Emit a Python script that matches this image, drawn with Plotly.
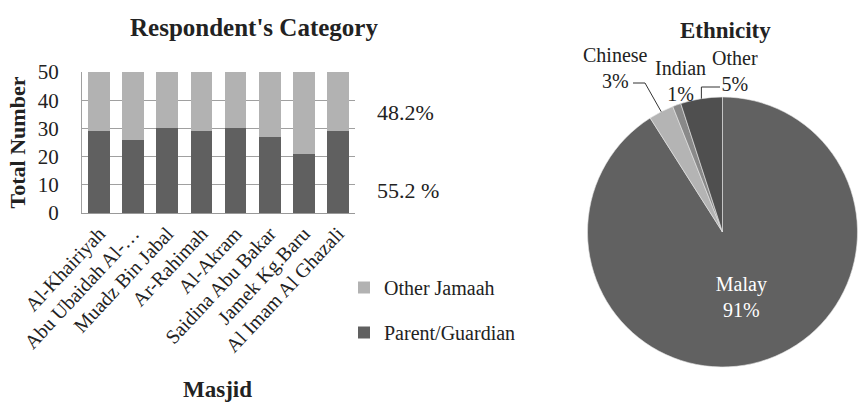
import math
import plotly.graph_objects as go

masjids = ["Al-Khairiyah", "Abu Ubaidah Al-…", "Muadz Bin Jabal", "Ar-Rahimah",
           "Al-Akram", "Saidina Abu Bakar", "Jamek Kg.Baru", "Al Imam Al Ghazali"]
parent_guardian = [29, 26, 30, 29, 30, 27, 21, 29]
other_jamaah = [21, 24, 20, 21, 20, 23, 29, 21]
side_labels = ["48.2%", "55.2 %"]

ethnic_labels = ["Malay", "Chinese", "Indian", "Other"]
ethnic_values = [91, 3, 1, 5]

FONT = "Liberation Serif"
W, H = 858, 403

# pie box in pixels (layout)
PX0, PX1, PY0, PY1 = 587, 858, 97, 367
PCX = (PX0 + PX1) / 2
PCY = (PY0 + PY1) / 2
PR = min(PX1 - PX0, PY1 - PY0) / 2


def px(x):
    return x / W


def py(y):
    return (H - y) / H


def slice_edge(i):
    """Point on pie rim at middle angle of slice i (clockwise from 12 o'clock)."""
    tot = sum(ethnic_values)
    start = sum(ethnic_values[:i]) / tot
    mid = (start + ethnic_values[i] / tot / 2) * 2 * math.pi
    return PCX + PR * math.sin(mid), PCY - PR * math.cos(mid)


def pct(i):
    return f"{ethnic_values[i] / sum(ethnic_values) * 100:.0f}%"


fig = go.Figure()
fig.add_trace(go.Bar(x=masjids, y=parent_guardian, name="Parent/Guardian",
                     legendgroup="pg", legendrank=2,
                     marker=dict(color="#606060", line=dict(width=0))))
fig.add_trace(go.Bar(x=masjids, y=other_jamaah, name="Other Jamaah",
                     legendgroup="oj", legendrank=1,
                     marker=dict(color="#b2b2b2", line=dict(width=0))))

fig.add_trace(go.Pie(
    labels=ethnic_labels, values=ethnic_values, sort=False, direction="clockwise",
    rotation=0,
    marker=dict(colors=["#616161", "#b4b4b4", "#898989", "#4f4f4f"],
                line=dict(color="#e8e8e8", width=0.6)),
    texttemplate=["%{label}<br>%{percent:.0%}", "", "", ""],
    textposition="inside",
    insidetextfont=dict(color="white", size=20, family=FONT),
    insidetextorientation="horizontal",
    domain=dict(x=[px(PX0), px(PX1)], y=[py(PY1), py(PY0)]),
    showlegend=False, hoverinfo="label+percent"))


def note(text, x, y, size, **kw):
    d = dict(text=text, x=px(x), y=py(y), xref="paper", yref="paper",
             xanchor="center", yanchor="middle", showarrow=False, font=dict(size=size))
    d.update(kw)
    return d


annotations = [
    note("<b>Respondent's Category</b>", 254, 28, 25),
    note("<b>Ethnicity</b>", 725, 31, 23),
    note(side_labels[0], 375, 113, 22, xanchor="left"),
    note(side_labels[1], 375, 190, 22, xanchor="left"),
    note("<b>Masjid</b>", 217, 389, 23),
]

# outside pie labels
label_pos = {1: (615, 68), 2: (680, 81), 3: (735, 71)}
for i, (lx, ly) in label_pos.items():
    annotations.append(note(f"{ethnic_labels[i]}<br>{pct(i)}", lx, ly, 20))

shapes = []
# leader lines: Chinese and Other
ex, ey = slice_edge(1)
shapes.append(dict(type="path", xref="paper", yref="paper",
                   path=f"M {px(633)} {py(83)} L {px(645)} {py(83)} L {px(ex)} {py(ey)}",
                   line=dict(color="#333", width=1)))
ex, ey = slice_edge(3)
shapes.append(dict(type="path", xref="paper", yref="paper",
                   path=f"M {px(720)} {py(87)} L {px(ex)} {py(87)} L {px(ex)} {py(ey)}",
                   line=dict(color="#333", width=1)))

fig.update_layout(
    width=W, height=H, barmode="stack", bargap=0.36,
    margin=dict(l=0, r=0, t=0, b=0, autoexpand=False),
    paper_bgcolor="white", plot_bgcolor="white",
    font=dict(family=FONT, color="#222"),
    xaxis=dict(domain=[px(82), px(355)], tickangle=-47, tickfont=dict(size=20),
               showline=True, linecolor="#999", ticks="", automargin=False),
    yaxis=dict(domain=[py(213), py(72)], range=[0, 50], dtick=10,
               tickfont=dict(size=21), showgrid=True, gridcolor="#a0a0a0", gridwidth=1,
               showline=True, linecolor="#a0a0a0", ticks="outside", ticklen=18,
               tickcolor="rgba(0,0,0,0)", automargin=False, zeroline=False,
               title=dict(text="<b>Total Number</b>", font=dict(size=22), standoff=6)),
    legend=dict(x=px(344), y=py(268), xanchor="left", yanchor="top",
                traceorder="grouped", font=dict(size=20), itemwidth=30,
                tracegroupgap=16, bgcolor="rgba(0,0,0,0)"),
    annotations=annotations,
    shapes=shapes,
)
fig.write_html("out.html", config={"displayModeBar": False},
               post_script="document.body.style.margin='0';")
